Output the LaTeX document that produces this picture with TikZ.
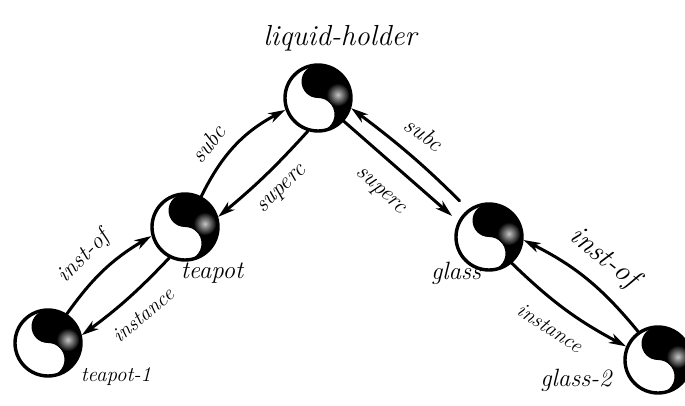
\documentclass[tikz,border=0pt]{standalone}
\usetikzlibrary{arrows.meta}
\newcommand\yydark[1]{%
  \begin{scope}[shift={(path picture bounding box.center)}]
   \path[clip] (0pt,#1) arc[start angle=90,end angle=-90,radius=#1]
     arc[start angle=-90,end angle=90,radius=#1/2]
     arc[start angle=-90,end angle=-270,radius=#1/2] -- cycle;
   \fill[black] (-#1,-#1) rectangle (#1,#1);
   \shade[inner color=gray!45, outer color=black] (0.6*#1,0.1*#1) circle[radius=0.35*#1];
  \end{scope}}
\tikzset{
  yy/.style={circle, draw, line width=3.4pt, minimum size=66pt, inner sep=0pt,
    path picture={\yydark{33pt}}},
  conn/.style={line width=3pt, line cap=round,
    -{Stealth[length=17pt,width=10pt,inset=5pt]}},
  lab/.style={font=\itshape\fontsize{#1}{#1}\selectfont, inner sep=0pt},
  lab/.default=20
}
\begin{document}
\begin{tikzpicture}[x=1pt,y=-1pt]
\useasboundingbox[fill=white] (0,0) rectangle (685,406);
% nodes
\node[yy] (lh)  at (318,98)  {};
\node[yy] (tp)  at (185,227) {};
\node[yy] (tp1) at (48,343)  {};
\node[yy] (gl)  at (489,237) {};
\node[yy] (gl2) at (658,360) {};
% node labels
\node[lab=29] (lhl)  at (340,38)  {liquid-holder};
\node[lab=25] (tpl)  at (212,273) {teapot};
\node[lab=21] (tp1l) at (116,377) {teapot-1};
\node[lab=25] (gll)  at (456,273) {glass};
\node[lab=25] (gl2l) at (576,380) {glass-2};
% connectors
\draw[conn] (tp1.57) to[bend left=12] (tp.195);
\draw[conn] (tp.243) to[bend left=5] (tp1.13);
\draw[conn] (tp.62) to[bend left=18] (lh.200);
\draw[conn] (lh.253) to[bend left=4] (tp.17);
\draw[conn, shorten <=12pt] (gl.127) to[bend right=4] (lh.-17);
\draw[conn, shorten >=8pt] (lh.-42) to (gl.153);
\draw[conn] (gl2.125) to[bend right=12] (gl.-5);
\draw[conn] (gl.-49) to[bend right=8] (gl2.157);
% edge labels
\node[lab=23, rotate=45] (l1) at (84,257) {inst-of};
\node[lab=21, rotate=40] (l2) at (143,315) {instance};
\node[lab=23, rotate=52] (l3) at (208,144) {subc};
\node[lab=23, rotate=44] (l4) at (283,190) {superc};
\node[lab=23, rotate=-36] (l5) at (424,134) {subc};
\node[lab=23, rotate=-42] (l6) at (380,192) {superc};
\node[lab=29, rotate=-39] (l7) at (604,258) {inst-of};
\node[lab=21, rotate=-33] (l8) at (550,328) {instance};
\end{tikzpicture}
\end{document}
